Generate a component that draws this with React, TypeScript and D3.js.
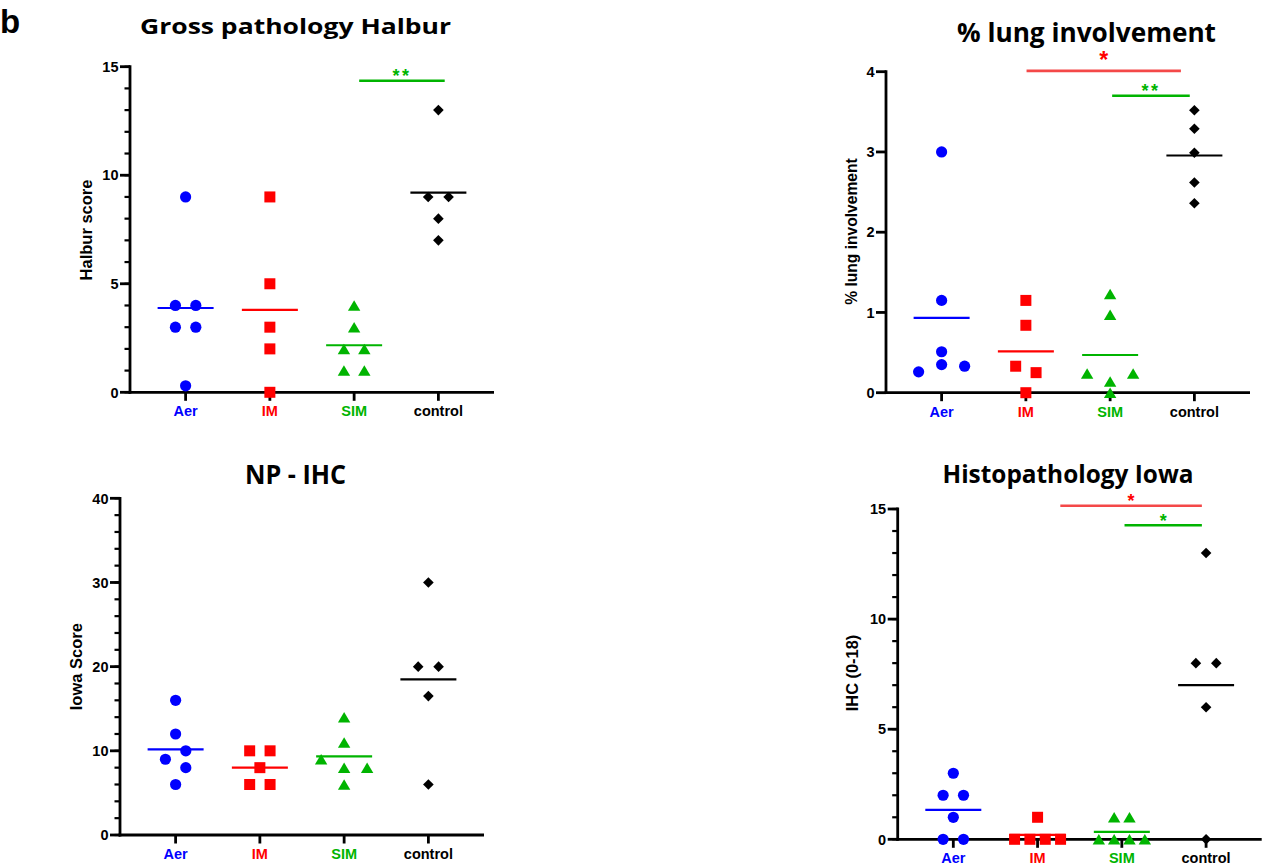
import React from "react";
import * as d3 from "d3";

// ---------- data ----------
const categories = ["Aer", "IM", "SIM", "control"];

const halburAer = [9, 4, 4, 3, 3, 0.3];
const halburIM = [9, 5, 3, 2, 0];
const halburSIM = [4, 3, 2, 2, 1, 1];
const halburControl = [13, 9, 9, 8, 7];
const halburTicks = [0, 5, 10, 15];

const lungAer = [3.0, 1.15, 0.51, 0.26, 0.35, 0.33];
const lungIM = [1.15, 0.84, 0.33, 0.25, 0];
const lungSIM = [1.23, 0.97, 0.24, 0.14, 0.24, 0];
const lungControl = [3.52, 3.29, 2.99, 2.62, 2.36];
const lungTicks = [0, 1, 2, 3, 4];

const iowaAer = [16, 12, 10, 9, 8, 6];
const iowaIM = [10, 10, 8, 6, 6];
const iowaSIM = [14, 11, 9, 8, 8, 6];
const iowaControl = [30, 20, 20, 16.5, 6];
const iowaTicks = [0, 10, 20, 30, 40];

const ihcAer = [3, 2, 2, 1, 0, 0];
const ihcIM = [1, 0, 0, 0, 0];
const ihcSIM = [1, 1, 0, 0, 0, 0];
const ihcControl = [13, 8, 8, 6, 0];
const ihcTicks = [0, 5, 10, 15];

// significance bars: from/to in category-index units, y in data units
const halburSig = [{ from: 2.06, to: 3.075, y: 14.35, label: "**", kind: "green" }];
const lungSig = [
  { from: 1.008, to: 2.84, y: 4.01, label: "*", kind: "red" },
  { from: 2.024, to: 2.945, y: 3.7, label: "**", kind: "green" },
];
const iowaSig: any[] = [];
const ihcSig = [
  { from: 1.27, to: 2.95, y: 15.15, label: "*", kind: "red" },
  { from: 2.032, to: 2.95, y: 14.26, label: "*", kind: "green" },
];

// ---------- styles ----------
const colors = ["#0000ff", "#ff0000", "#00b400", "#000000"];
const shapes = ["circle", "square", "triangle", "diamond"];
const sigLineColor: Record<string, string> = { red: "#f44848", green: "#00b400" };
const sigTextColor: Record<string, string> = { red: "#ff0000", green: "#00b400" };
const ARIAL = "'Liberation Sans', Arial, sans-serif";
const TITLE_FONT = "'Open Sans', Lato, sans-serif";

const panels = [
  {
    title: "Gross pathology Halbur", titleX: 295.5, titleY: 34.3, titleSize: 21.5, titleLen: 311,
    yLabel: "Halbur score", yLabelX: 92, yLabelY: 230, yLabelSize: 16.5,
    axisX: 130, y0: 392.3, yTop: 66.7, domain: [0, 15], ticks: halburTicks, minorStep: 1,
    groups: [halburAer, halburIM, halburSIM, halburControl], sig: halburSig, starSize: 18, bigStar: false,
  },
  {
    title: "% lung involvement", titleX: 1086.5, titleY: 41.7, titleSize: 27, titleLen: 259,
    yLabel: "% lung involvement", yLabelX: 856.5, yLabelY: 231.5, yLabelSize: 15.6,
    axisX: 886, y0: 392.7, yTop: 71.7, domain: [0, 4], ticks: lungTicks, minorStep: 0,
    groups: [lungAer, lungIM, lungSIM, lungControl], sig: lungSig, starSize: 18, bigStar: true,
  },
  {
    title: "NP - IHC", titleX: 295.5, titleY: 484.3, titleSize: 27, titleLen: 101,
    yLabel: "Iowa Score", yLabelX: 82, yLabelY: 666.7, yLabelSize: 16.5,
    axisX: 120, y0: 835, yTop: 498.3, domain: [0, 40], ticks: iowaTicks, minorStep: 2,
    groups: [iowaAer, iowaIM, iowaSIM, iowaControl], sig: iowaSig, starSize: 18, bigStar: false,
  },
  {
    title: "Histopathology Iowa", titleX: 1068, titleY: 483.3, titleSize: 25.5, titleLen: 251,
    yLabel: "IHC (0-18)", yLabelX: 858.4, yLabelY: 673, yLabelSize: 16.4,
    axisX: 897.7, y0: 839.3, yTop: 509, domain: [0, 15], ticks: ihcTicks, minorStep: 1,
    groups: [ihcAer, ihcIM, ihcSIM, ihcControl], sig: ihcSig, starSize: 18, bigStar: false,
  },
];

// ---------- layout of overlapping points (GraphPad-like scatter spread) ----------
function spreadGroup(values: number[], y: (v: number) => number) {
  const thresh = 10.5;
  const order = values.map((_, i) => i).sort((a, b) => values[b] - values[a] || a - b);
  const rows: number[][] = [];
  order.forEach((i, k) => {
    if (k > 0 && Math.abs(y(values[i]) - y(values[order[k - 1]])) < thresh) {
      rows[rows.length - 1].push(i);
    } else rows.push([i]);
  });
  const info = rows.map((r) => {
    const span = Math.abs(y(values[r[0]]) - y(values[r[r.length - 1]]));
    const zig = r.length >= 3 && span > thresh;
    return { r, zig, width: zig ? 2 : r.length };
  });
  const maxW = d3.max(info, (d) => d.width) || 1;
  const spacing = maxW <= 2 ? 20.4 : 46 / (maxW - 1);
  const offsets = new Array(values.length).fill(0);
  info.forEach(({ r, zig }) => {
    if (zig) {
      r.forEach((i, k) => (offsets[i] = (k % 2 === 0 ? 1 : -1) * spacing / 2));
    } else {
      const byIdx = [...r].sort((a, b) => a - b);
      byIdx.forEach((i, k) => (offsets[i] = (k - (byIdx.length - 1) / 2) * spacing));
    }
  });
  return offsets;
}

function Marker({ shape, cx, cy, color }: { shape: string; cx: number; cy: number; color: string }) {
  if (shape === "circle") return <circle cx={cx} cy={cy} r={5.6} fill={color} />;
  if (shape === "square") return <rect x={cx - 5.5} y={cy - 5.5} width={11} height={11} fill={color} />;
  if (shape === "triangle") {
    const w = 6.2, h = 10.5;
    return <path d={`M${cx},${cy - h / 2}L${cx + w},${cy + h / 2}L${cx - w},${cy + h / 2}Z`} fill={color} />;
  }
  const s = 5.3;
  return <path d={`M${cx},${cy - s}L${cx + s},${cy}L${cx},${cy + s}L${cx - s},${cy}Z`} fill={color} />;
}

function Panel({ p }: { p: (typeof panels)[number] }) {
  const y = d3.scaleLinear().domain(p.domain).range([p.y0, p.yTop]);
  const x = d3.scalePoint().domain(categories).range([p.axisX, p.axisX + 364]).padding(0.66);
  const step = x.step();
  const xi = (idx: number) => (x(categories[0]) as number) + idx * step;
  const minor = p.minorStep ? d3.range(p.domain[0], p.domain[1] + 1e-9, p.minorStep) : [];
  const xEnd = p.axisX + 364;
  return (
    <g>
      <text
        x={p.titleX} y={p.titleY} textAnchor="middle" fontFamily={TITLE_FONT} fontWeight={700}
        fontSize={p.titleSize} textLength={p.titleLen} lengthAdjust="spacingAndGlyphs" fill="#000"
      >
        {p.title}
      </text>
      <text
        transform={`translate(${p.yLabelX},${p.yLabelY}) rotate(-90)`} textAnchor="middle"
        fontFamily={ARIAL} fontWeight={700} fontSize={p.yLabelSize} fill="#000"
      >
        {p.yLabel}
      </text>
      {minor.map((v) => (
        <line key={"m" + v} x1={p.axisX - 5.5} x2={p.axisX} y1={y(v)} y2={y(v)} stroke="#000" strokeWidth={2.2} />
      ))}
      {p.ticks.map((v) => (
        <g key={"t" + v}>
          <line x1={p.axisX - 10} x2={p.axisX} y1={y(v)} y2={y(v)} stroke="#000" strokeWidth={2.8} />
          <text
            x={p.axisX - 11.5} y={y(v)} dy="0.36em" textAnchor="end" fontFamily={ARIAL}
            fontWeight={700} fontSize={14.5} fill="#000"
          >
            {v}
          </text>
        </g>
      ))}
      <line x1={p.axisX} x2={p.axisX} y1={p.yTop - 1.4} y2={p.y0 + 1.4} stroke="#000" strokeWidth={2.8} />
      <line x1={p.axisX - 1.4} x2={xEnd} y1={p.y0} y2={p.y0} stroke="#000" strokeWidth={2.8} />
      {categories.map((c, i) => (
        <g key={c}>
          <line x1={x(c)} x2={x(c)} y1={p.y0} y2={p.y0 + 8.5} stroke="#000" strokeWidth={2.8} />
          <text
            x={x(c)} y={p.y0 + 24} textAnchor="middle" fontFamily={ARIAL} fontWeight={700}
            fontSize={14.5} fill={colors[i]}
          >
            {c}
          </text>
        </g>
      ))}
      {p.groups.map((vals, gi) => {
        const cx = x(categories[gi]) as number;
        const offs = spreadGroup(vals, y);
        const m = d3.mean(vals) as number;
        return (
          <g key={"g" + gi}>
            {vals.map((v, i) => (
              <Marker key={i} shape={shapes[gi]} cx={cx + offs[i]} cy={y(v)} color={colors[gi]} />
            ))}
            <line x1={cx - 28} x2={cx + 28} y1={y(m)} y2={y(m)} stroke={colors[gi]} strokeWidth={2.2} />
          </g>
        );
      })}
      {p.sig.map((s: any, k: number) => {
        const x1 = xi(s.from), x2 = xi(s.to), yy = y(s.y);
        const big = p.bigStar && s.label === "*";
        return (
          <g key={"s" + k}>
            <line x1={x1} x2={x2} y1={yy} y2={yy} stroke={sigLineColor[s.kind]} strokeWidth={2.6} />
            <text
              x={(x1 + x2) / 2} y={big ? yy - 3 : yy + 1.5} textAnchor="middle"
              fontFamily={ARIAL} fontWeight={700} fontSize={big ? 23 : p.starSize}
              letterSpacing={s.label.length > 1 ? 2.5 : 0} fill={sigTextColor[s.kind]}
            >
              {s.label}
            </text>
          </g>
        );
      })}
    </g>
  );
}

export default function App() {
  return (
    <svg
      width={1262} height={867} viewBox="0 0 1262 867"
      style={{ position: "absolute", left: 0, top: 0, background: "#fff" }}
    >
      <rect x={0} y={0} width={1262} height={867} fill="#fff" />
      <text x={0} y={33} fontFamily={ARIAL} fontWeight={700} fontSize={33} fill="#000">
        b
      </text>
      {panels.map((p, i) => (
        <Panel key={i} p={p} />
      ))}
    </svg>
  );
}
